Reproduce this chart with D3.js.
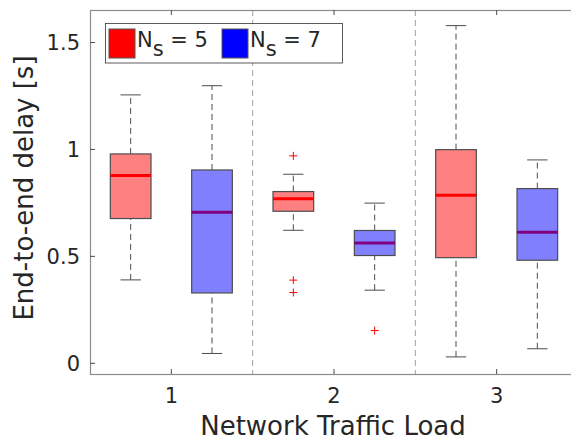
<!DOCTYPE html>
<html>
<head>
<meta charset="utf-8">
<script src="https://cdn.jsdelivr.net/npm/d3@7"></script>
<style>
  body { margin: 0; background: #fff; }
  text { font-family: "DejaVu Sans", sans-serif; fill: #262626; }
</style>
</head>
<body>
<div id="chart"></div>
<script>
// traffic load categories and the two series (box stats)
var loads = [1, 2, 3];
var seriesNames = ["5", "7"];
var seriesFill = ["#ff8080", "#8080ff"];
var seriesLegend = ["#ff0000", "#0000ff"];
var seriesMedian = ["#ff0000", "#800080"];

// [whiskerLow, q1, median, q3, whiskerHigh] per load
var ns5 = [
  [0.39, 0.677, 0.878, 0.979, 1.255],
  [0.622, 0.711, 0.769, 0.803, 0.884],
  [0.03, 0.494, 0.786, 0.999, 1.579]
];
var ns7 = [
  [0.046, 0.329, 0.706, 0.904, 1.298],
  [0.342, 0.504, 0.563, 0.621, 0.749],
  [0.068, 0.482, 0.613, 0.817, 0.951]
];
var ns5Outliers = [[], [0.970, 0.389, 0.331], []];
var ns7Outliers = [[], [0.153], []];

var yTicks = [0, 0.5, 1, 1.5];

var W = 571, H = 442;

var svg = d3.select("#chart").append("svg")
    .attr("width", W)
    .attr("height", H);

var x = d3.scaleLinear().domain([0.5, 3.5]).range([90, 578]);
var y = d3.scaleLinear().domain([-0.05, 1.652]).range([374, 10]);

// separators between loads
svg.selectAll(".sep")
    .data([1.5, 2.5])
    .enter().append("line")
    .attr("x1", function(d) { return x(d); })
    .attr("x2", function(d) { return x(d); })
    .attr("y1", y.range()[1])
    .attr("y2", y.range()[0])
    .attr("stroke", "#a0a0a0")
    .attr("stroke-width", 1)
    .attr("stroke-dasharray", "6,4");

var boxW = x(0.75) - x(0.5);
var series = [ns5, ns7];
var outliers = [ns5Outliers, ns7Outliers];

series.forEach(function(stats, si) {
  var off = si == 0 ? -0.25 : 0.25;
  var g = svg.append("g");
  stats.forEach(function(s, i) {
    var cx = x(loads[i] + off);
    // whiskers
    [[s[0], s[1]], [s[3], s[4]]].forEach(function(w) {
      g.append("line")
          .attr("x1", cx).attr("x2", cx)
          .attr("y1", y(w[0])).attr("y2", y(w[1]))
          .attr("stroke", "#4d4d4d")
          .attr("stroke-dasharray", "6,4");
    });
    [s[0], s[4]].forEach(function(v) {
      g.append("line")
          .attr("x1", cx - boxW / 4).attr("x2", cx + boxW / 4)
          .attr("y1", y(v)).attr("y2", y(v))
          .attr("stroke", "#4d4d4d");
    });
    g.append("rect")
        .attr("x", cx - boxW / 2)
        .attr("width", boxW)
        .attr("y", y(s[3]))
        .attr("height", y(s[1]) - y(s[3]))
        .attr("fill", seriesFill[si])
        .attr("stroke", "#4d4d4d")
        .attr("stroke-width", 1.2);
    g.append("line")
        .attr("x1", cx - boxW / 2).attr("x2", cx + boxW / 2)
        .attr("y1", y(s[2])).attr("y2", y(s[2]))
        .attr("stroke", seriesMedian[si])
        .attr("stroke-width", 3);
    // outliers
    outliers[si][i].forEach(function(v) {
      g.append("path")
          .attr("d", "M" + (cx - 4) + "," + y(v) + "h8M" + cx + "," + (y(v) - 4) + "v8")
          .attr("stroke", "#ff0000")
          .attr("stroke-width", 1);
    });
  });
});

// axes box
svg.append("rect")
    .attr("x", x.range()[0] + 0.5)
    .attr("y", y.range()[1] + 0.5)
    .attr("width", x.range()[1] - x.range()[0])
    .attr("height", y.range()[0] - y.range()[1])
    .attr("fill", "none")
    .attr("stroke", "#8c8c8c")
    .attr("stroke-width", 1.2);

// ticks
var tickCol = "#4d4d4d";
loads.forEach(function(d) {
  svg.append("line").attr("x1", x(d)).attr("x2", x(d))
      .attr("y1", y.range()[0]).attr("y2", y.range()[0] - 5).attr("stroke", tickCol);
  svg.append("line").attr("x1", x(d)).attr("x2", x(d))
      .attr("y1", y.range()[1]).attr("y2", y.range()[1] + 5).attr("stroke", tickCol);
  svg.append("text")
      .attr("x", x(d)).attr("y", 403)
      .attr("text-anchor", "middle")
      .attr("font-size", 21)
      .text(d);
});
yTicks.forEach(function(d) {
  svg.append("line").attr("x1", x.range()[0]).attr("x2", x.range()[0] + 5)
      .attr("y1", y(d)).attr("y2", y(d)).attr("stroke", tickCol);
  svg.append("text")
      .attr("x", 80).attr("y", y(d) + 7.5)
      .attr("text-anchor", "end")
      .attr("font-size", 21)
      .text(d3.format("")(d));
});

svg.append("text")
    .attr("x", 333).attr("y", 435)
    .attr("text-anchor", "middle")
    .attr("font-size", 26)
    .text("Network Traffic Load");

svg.append("text")
    .attr("transform", "translate(33,188) rotate(-90)")
    .attr("text-anchor", "middle")
    .attr("font-size", 26)
    .text("End-to-end delay [s]");

// legend
var legend = svg.append("g");
legend.append("rect")
    .attr("x", 105.5).attr("y", 23.5)
    .attr("width", 237).attr("height", 39.5)
    .attr("fill", "#fff")
    .attr("stroke", "#333")
    .attr("stroke-width", 0.8);
var legX = [109, 222];
seriesNames.forEach(function(n, i) {
  legend.append("rect")
      .attr("x", legX[i]).attr("y", 29)
      .attr("width", 26).attr("height", 29)
      .attr("fill", seriesLegend[i])
      .attr("stroke", "#555");
  var t = legend.append("text")
      .attr("x", legX[i] + 28).attr("y", 47)
      .attr("font-size", 21);
  t.append("tspan").text("N");
  t.append("tspan").attr("dy", 9).text("s");
  t.append("tspan").attr("dy", -9).text(" = " + n);
});
</script>
</body>
</html>
